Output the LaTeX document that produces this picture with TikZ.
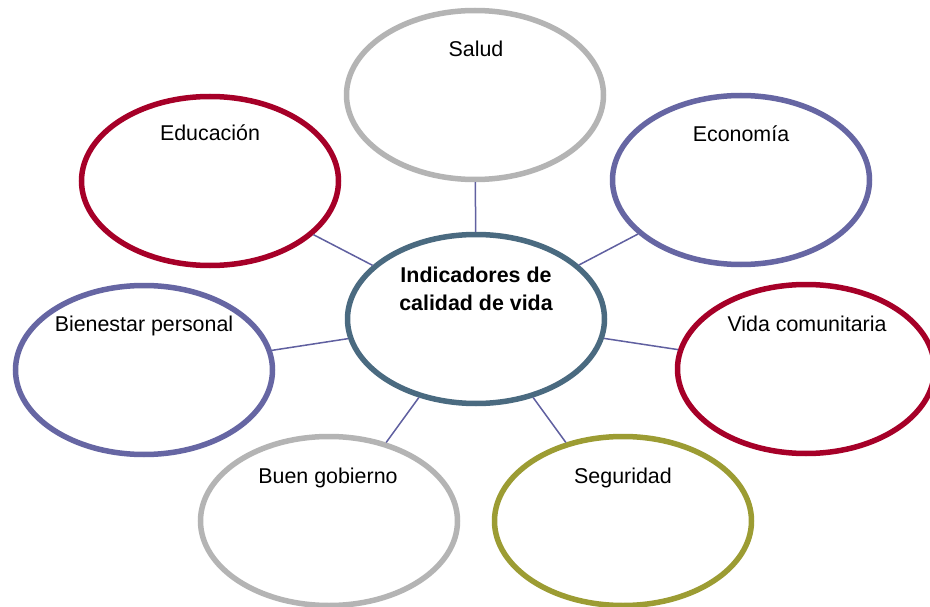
\documentclass[tikz,border=0pt]{standalone}
\usepackage{fontspec}
\setmainfont{Liberation Sans}
\usetikzlibrary{shapes.geometric}
\definecolor{cred}{RGB}{166,0,40}
\definecolor{cpurple}{RGB}{102,102,163}
\definecolor{cgray}{RGB}{180,180,180}
\definecolor{colive}{RGB}{156,156,51}
\definecolor{cteal}{RGB}{74,106,128}
\definecolor{cline}{RGB}{96,96,160}
\tikzset{
  oval/.style={ellipse, draw=#1, line width=5.5pt, fill=white, minimum width=257pt, minimum height=169pt, inner sep=0pt},
  lbl/.style={anchor=base, inner sep=0pt, font=\fontsize{21.4}{28}\selectfont},
  conn/.style={draw=cline, line width=1.5pt}
}
\begin{document}
\begin{tikzpicture}[x=1pt,y=-1pt]
\useasboundingbox (0,0) rectangle (930,607);
\clip (0,0) rectangle (930,607);
\fill[white] (0,0) rectangle (930,607);
\node[oval=cteal] (c) at (476,319) {};
\node[oval=cgray] (salud) at (475,95) {};
\node[oval=cred] (edu) at (210,181) {};
\node[oval=cpurple] (eco) at (741,180) {};
\node[oval=cpurple] (bien) at (144,370) {};
\node[oval=cred] (vida) at (806,369) {};
\node[oval=cgray] (buen) at (329,521) {};
\node[oval=colive] (seg) at (623,521) {};
\foreach \n in {salud,edu,eco,bien,vida,buen,seg} \draw[conn] (c) -- (\n);
\node[lbl] (tsalud) at (476,57) {Salud};
\node[lbl] (tedu) at (210,141) {Educación};
\node[lbl] (teco) at (741,142) {Economía};
\node[lbl] (tbien) at (144,331) {Bienestar personal};
\node[lbl] (tvida) at (807,331) {Vida comunitaria};
\node[lbl] (tbuen) at (328,483) {Buen gobierno};
\node[lbl] (tseg) at (623,483) {Seguridad};
\node[lbl, font=\fontsize{21.4}{28}\selectfont\bfseries] (tc1) at (476,282) {Indicadores de};
\node[lbl, font=\fontsize{21.4}{28}\selectfont\bfseries] (tc2) at (476,310) {calidad de vida};
\end{tikzpicture}
\end{document}
